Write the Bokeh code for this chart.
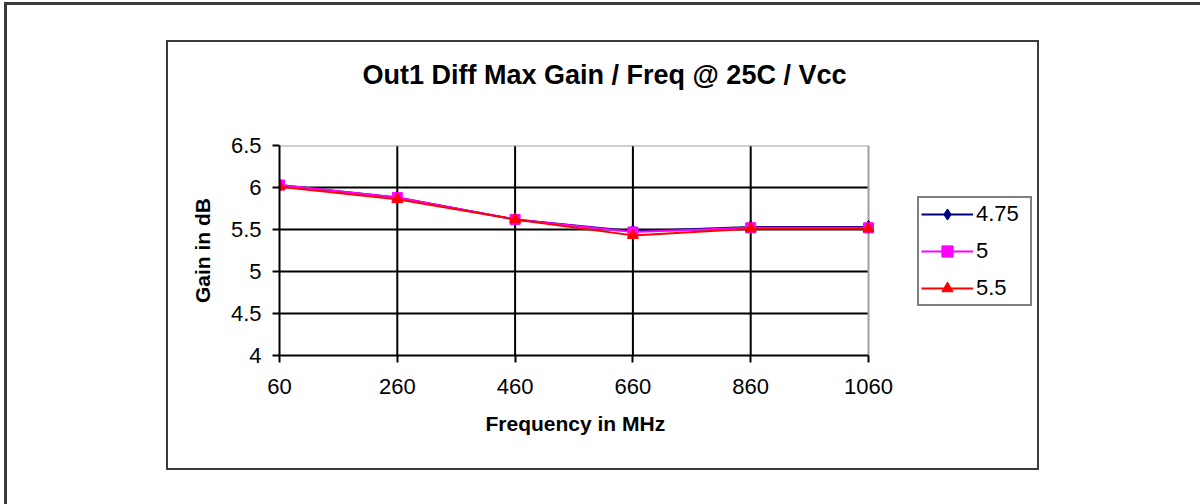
from bokeh.plotting import figure
from bokeh.models import (Legend, LegendItem, FixedTicker, Range1d,
                          ColumnDataSource, Title)
from bokeh.embed import file_html
from bokeh.resources import INLINE

# ---- data ----
freq_mhz = [60, 260, 460, 660, 860, 1060]
gain_475 = [6.03, 5.88, 5.62, 5.48, 5.53, 5.53]
gain_5 = [6.03, 5.88, 5.62, 5.47, 5.52, 5.52]
gain_55 = [6.01, 5.86, 5.62, 5.43, 5.51, 5.51]
y_ticks = [4, 4.5, 5, 5.5, 6, 6.5]
series_names = ["4.75", "5", "5.5"]
title_text = "Out1 Diff Max Gain / Freq @ 25C / Vcc"
x_title = "Frequency in MHz"
y_title = "Gain in dB"

FONT = "Liberation Sans"
W, H = 1200, 504
L, T = 279, 145            # plot-area left / top (px)
PW, FH = 589, 210          # plot-area width / height (px)
FRAME_RIGHT = 1036         # frame extends right so the legend sits inside it
FW = FRAME_RIGHT - L
x0, x1 = freq_mhz[0], freq_mhz[-1]
x_end = x1 + (FW - PW) * (x1 - x0) / PW

# decorative frames (chart-area box and page edge) drawn as CSS background lines
LINE = "linear-gradient(#3a3a3a,#3a3a3a)"
layers = [
    ("166px 40px", "873px 2px"),   # chart box top
    ("166px 468px", "873px 2px"),  # chart box bottom
    ("166px 40px", "2px 430px"),   # chart box left
    ("1037px 40px", "2px 430px"),  # chart box right
    ("4px 2px", "1300px 3px"),     # page edge top
    ("4px 2px", "3px 700px"),      # page edge left
]
styles = {
    "background-image": ",".join([LINE] * len(layers)),
    "background-position": ",".join(pos for pos, _ in layers),
    "background-size": ",".join(sz for _, sz in layers),
    "background-repeat": "no-repeat",
    "background-color": "white",
}

p = figure(width=W, height=H, output_backend="svg", toolbar_location=None,
           x_range=Range1d(x0, x_end), y_range=Range1d(y_ticks[0], y_ticks[-1]),
           min_border_left=L, min_border_top=T,
           min_border_right=W - L - FW, min_border_bottom=H - T - FH,
           styles=styles)
p.background_fill_color = "white"
p.border_fill_color = None
p.outline_line_color = None
p.xgrid.visible = False
p.ygrid.visible = False

# grid lines and plot-area border (drawn from the tick lists)
inner_x = freq_mhz[1:-1]
inner_y = y_ticks[1:-1]
p.segment(x0=inner_x, x1=inner_x, y0=[y_ticks[0]] * len(inner_x),
          y1=[y_ticks[-1]] * len(inner_x), line_color="black", line_width=2)
p.segment(x0=[x0] * len(inner_y), x1=[x1] * len(inner_y), y0=inner_y, y1=inner_y,
          line_color="black", line_width=2)
p.segment(x0=[x0, x1], x1=[x1, x1], y0=[y_ticks[-1], y_ticks[0]],
          y1=[y_ticks[-1], y_ticks[-1]], line_color="#a0a0a0", line_width=2)

# axes
p.xaxis.ticker = FixedTicker(ticks=freq_mhz)
p.yaxis.ticker = FixedTicker(ticks=y_ticks)
p.xaxis.bounds = (x0, x1)
for ax in (p.xaxis, p.yaxis):
    ax.axis_line_color = "black"
    ax.axis_line_width = 2
    ax.major_tick_line_color = "black"
    ax.major_tick_line_width = 2
    ax.major_tick_out = 7
    ax.major_tick_in = 0
    ax.minor_tick_line_color = None
    ax.major_label_text_font = FONT
    ax.major_label_text_font_size = "22px"
    ax.major_label_text_color = "black"
    ax.axis_label_text_font = FONT
    ax.axis_label_text_font_style = "bold"
    ax.axis_label_text_font_size = "21px"
    ax.axis_label_text_color = "black"
p.xaxis.major_label_standoff = 16
p.yaxis.major_label_standoff = 11
p.yaxis.axis_label = y_title
p.yaxis.axis_label_standoff = 14

# chart title
title = Title(text=title_text, align="left",
              text_font=FONT, text_font_size="27px", text_font_style="bold",
              text_color="black", offset=83, standoff=112)
p.add_layout(title, "above")

# x-axis title, centred under the plot area (not the wider frame)
xlab = Title(text=x_title, align="left", text_font=FONT, text_font_size="21px",
             text_font_style="bold", text_color="black", offset=206, standoff=26)
p.add_layout(xlab, "below")

# series
src = ColumnDataSource(dict(x=freq_mhz, a=gain_475, b=gain_5, c=gain_55))
r1l = p.line("x", "a", source=src, line_color="#000080", line_width=2)
r1m = p.scatter("x", "a", source=src, marker="diamond", size=13,
                fill_color="#000080", line_color="#000080")
r2l = p.line("x", "b", source=src, line_color="#ff00ff", line_width=2)
r2m = p.scatter("x", "b", source=src, marker="square", size=10,
                fill_color="#ff00ff", line_color="#ff00ff")
r3l = p.line("x", "c", source=src, line_color="#ff0000", line_width=2)
r3m = p.scatter("x", "c", source=src, marker="triangle", size=11,
                fill_color="#ff0000", line_color="#ff0000")

legend = Legend(items=[LegendItem(label=series_names[0], renderers=[r1l, r1m]),
                       LegendItem(label=series_names[1], renderers=[r2l, r2m]),
                       LegendItem(label=series_names[2], renderers=[r3l, r3m])],
                location=(917 - L, 355 - 306),
                border_line_color="black", border_line_width=2,
                background_fill_alpha=1, background_fill_color="white",
                padding=2, margin=0, spacing=9,
                glyph_width=52, glyph_height=28, label_height=24,
                label_width=52,
                label_standoff=3, label_text_font=FONT,
                label_text_font_size="22px", label_text_color="black")
p.add_layout(legend, "center")

open("out.html", "w").write(file_html(p, INLINE))
